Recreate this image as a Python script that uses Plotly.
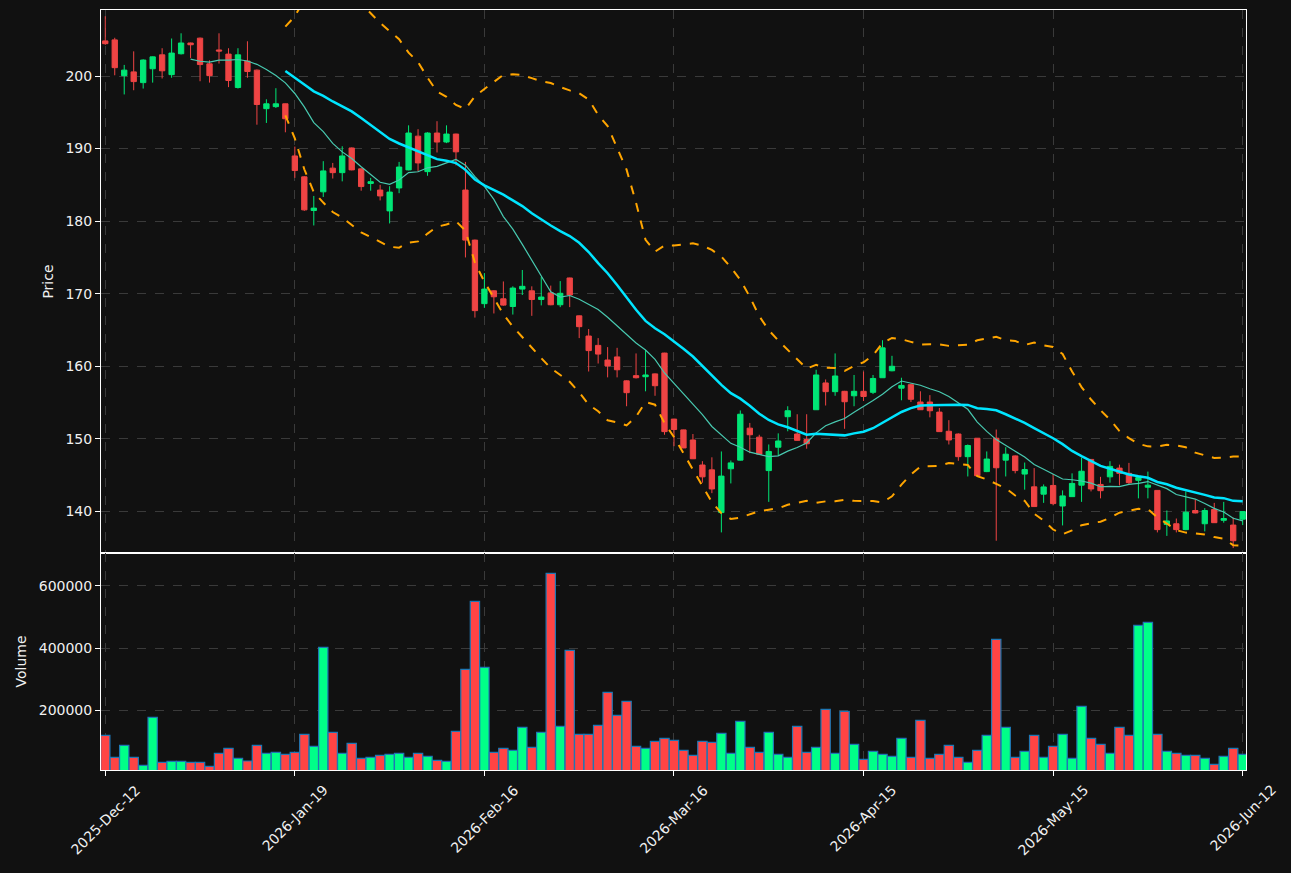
import plotly.graph_objects as go
import pandas as pd

# ---- data ----
tick_dates = ["2025-Dec-12", "2026-Jan-19", "2026-Feb-16", "2026-Mar-16",
              "2026-Apr-15", "2026-May-15", "2026-Jun-12"]

opens = [204.84, 204.98, 200.05, 200.57, 199.09, 201.0, 202.92, 200.19, 203.07, 204.55,
         205.22, 201.68, 203.59, 203.02, 198.42, 202.06, 200.81, 195.5, 195.78, 196.17,
         188.98, 186.1, 181.46, 184.04, 187.3, 186.68, 190.08, 187.2, 185.19, 184.28,
         181.41, 184.57, 187.06, 191.71, 186.82, 192.14, 190.9, 192.0, 184.28, 177.38,
         168.62, 170.39, 169.29, 168.23, 170.63, 170.39, 169.19, 170.1, 168.47, 172.16,
         166.94, 164.16, 162.87, 160.85, 161.28, 157.98, 158.70, 158.55, 158.94, 161.81,
         152.71, 151.22, 149.83, 146.38, 145.71, 139.82, 145.86, 147.05, 151.46, 150.22,
         145.61, 148.83, 153.04, 150.65, 149.88, 154.0, 157.69, 156.49, 156.54, 155.92,
         156.54, 156.4, 158.41, 159.37, 156.97, 157.45, 155.06, 155.06, 153.67, 151.03,
         150.65, 147.53, 150.07, 145.47, 150.07, 147.05, 147.63, 145.13, 143.37, 142.36,
         143.56, 140.73, 142.02, 143.6, 147.15, 143.7, 144.75, 145.95, 145.23, 144.27,
         143.32, 142.88, 138.19, 138.28, 137.47, 140.11, 138.28, 140.25, 138.76, 138.1,
         138.91]

highs = [208.24, 205.27, 201.53, 203.4, 202.3, 202.7, 203.83, 205.17, 205.89, 204.6,
         205.3, 202.16, 205.89, 203.83, 203.83, 204.79, 200.9, 196.79, 198.32, 196.2,
         190.27, 186.2, 183.47, 188.26, 188.02, 190.32, 190.15, 187.25, 185.96, 185.0,
         184.81, 188.16, 193.2, 192.67, 192.25, 193.77, 193.2, 192.05, 188.16, 177.45,
         172.83, 170.45, 171.68, 171.01, 173.26, 171.01, 172.3, 171.11, 171.73, 172.2,
         167.0, 165.12, 163.87, 162.63, 162.53, 158.05, 161.76, 162.24, 159.0, 161.85,
         152.75, 151.25, 150.65, 146.91, 147.44, 148.25, 147.0, 153.9, 152.18, 150.55,
         149.21, 150.74, 154.48, 153.38, 153.38, 159.51, 158.17, 161.76, 156.6, 158.79,
         159.27, 158.79, 163.58, 161.43, 158.41, 157.59, 156.54, 156.01, 154.24, 152.56,
         150.74, 149.21, 150.1, 148.25, 151.27, 148.83, 147.7, 146.72, 145.95, 143.7,
         145.13, 142.88, 145.23, 147.39, 147.2, 144.75, 146.91, 146.43, 146.67, 144.75,
         145.47, 142.9, 140.11, 139.0, 142.74, 141.64, 140.44, 141.16, 141.3, 139.15,
         140.0]

lows = [204.3, 200.1, 197.46, 198.04, 198.27, 199.09, 199.66, 199.76, 202.97, 202.49,
        199.28, 199.09, 201.72, 198.47, 198.27, 199.76, 193.29, 193.53, 195.59, 192.24,
        185.96, 181.41, 179.4, 183.33, 185.87, 185.48, 187.0, 184.19, 184.19, 182.85,
        179.68, 183.85, 187.0, 186.82, 186.25, 189.46, 190.75, 187.69, 174.99, 166.7,
        168.04, 167.27, 168.33, 167.12, 169.81, 166.94, 168.38, 168.4, 168.14, 168.14,
        163.87, 159.27, 160.37, 158.46, 158.46, 154.48, 158.31, 156.54, 155.92, 150.55,
        148.97, 148.7, 147.2, 143.94, 142.5, 137.09, 143.84, 147.0, 148.01, 147.8,
        141.3, 147.63, 151.03, 149.75, 148.63, 154.0, 154.58, 155.92, 151.37, 154.48,
        155.2, 156.16, 158.4, 159.3, 155.3, 155.06, 154.0, 152.95, 150.95, 149.21,
        146.96, 144.8, 144.8, 145.4, 135.94, 144.8, 145.23, 142.98, 140.6, 141.16,
        140.82, 138.05, 142.0, 141.3, 142.74, 141.78, 143.94, 143.56, 143.7, 141.78,
        141.78, 137.09, 136.61, 137.09, 137.4, 139.7, 137.23, 138.4, 138.43, 134.93,
        138.1]

closes = [204.46, 201.15, 200.81, 199.23, 202.2, 202.64, 200.72, 203.16, 204.55, 204.31,
          201.58, 200.05, 203.45, 199.38, 202.92, 200.62, 196.07, 196.17, 196.17, 194.11,
          186.97, 181.55, 181.79, 186.92, 186.68, 188.98, 187.06, 184.76, 185.43, 183.47,
          184.0, 187.45, 192.14, 188.02, 192.14, 190.9, 192.0, 189.55, 177.38, 167.66,
          170.63, 169.57, 168.42, 170.77, 171.01, 169.19, 169.53, 168.47, 170.05, 169.81,
          165.45, 162.15, 161.67, 160.04, 159.51, 156.35, 158.41, 158.79, 157.31, 150.98,
          151.27, 148.73, 147.24, 144.75, 143.08, 144.85, 146.67, 153.38, 150.55, 147.87,
          148.25, 149.69, 153.86, 149.78, 149.31, 158.79, 156.49, 158.65, 155.1, 156.54,
          155.82, 158.31, 162.53, 159.99, 157.35, 155.44, 154.0, 153.86, 150.98, 149.83,
          147.53, 149.07, 144.9, 147.2, 146.0, 147.87, 145.61, 145.75, 140.65, 143.36,
          141.06, 142.12, 143.84, 145.52, 143.08, 142.84, 146.19, 145.23, 143.94, 144.65,
          143.6, 137.47, 138.67, 137.47, 139.87, 139.77, 140.11, 138.43, 139.0, 135.94,
          139.96]

volumes = [119570, 48790, 87400, 48800, 23050, 177480, 32700, 35920, 35920, 32700,
           32700, 19840, 61660, 77740, 45570, 37000, 87400, 61660, 64880, 58440,
           64880, 122800, 84180, 402680, 129220, 61660, 93830, 45570, 48790, 55220,
           58440, 61660, 48790, 61660, 52000, 39140, 35920, 132440, 331900, 550670,
           338340, 64880, 77740, 71310, 145310, 80960, 129220, 640760, 148530, 393030,
           122800, 122800, 151740, 257910, 183910, 228950, 84180, 77740, 100270, 109920,
           103480, 71310, 55220, 100270, 97050, 126000, 61660, 164610, 80960, 64880,
           129220, 58440, 48790, 148530, 64880, 80960, 203220, 61660, 196780, 90610,
           42360, 68090, 58440, 52000, 109920, 48790, 167830, 45570, 58440, 87400,
           48790, 32700, 71310, 119570, 428420, 145310, 48790, 68090, 119570, 48790,
           84180, 122800, 45570, 212870, 109920, 90610, 61660, 145310, 119570, 473460,
           483110, 122800, 68090, 61660, 55220, 55220, 45570, 26270, 52000, 77740,
           58440]

# ---- derived indicators ----
n = len(closes)
idx = list(range(n))
close_s = pd.Series(closes)
ma10 = close_s.rolling(10).mean()
ma20 = close_s.rolling(20).mean()
sd20 = close_s.rolling(20).std()
upper = ma20 + 2 * sd20
lower = ma20 - 2 * sd20

vol_colors = ["#00ff88" if c >= o else "#ff4444" for o, c in zip(opens, closes)]
tick_idx = list(range(0, n, 20))

FONT = "DejaVu Sans"
TXT = "#f0f0f0"
GRID = "#3a3a3a"
BG = "#111111"

fig = go.Figure()

fig.add_trace(go.Candlestick(
    x=idx, open=opens, high=highs, low=lows, close=closes,
    increasing=dict(line=dict(color="#00e676", width=1), fillcolor="#00e676"),
    decreasing=dict(line=dict(color="#ef4444", width=1), fillcolor="#ef4444"),
    whiskerwidth=0, xaxis="x", yaxis="y", showlegend=False, name="Price",
))

fig.add_trace(go.Scatter(x=idx, y=upper, mode="lines", xaxis="x", yaxis="y",
                         line=dict(color="#ffa500", width=2, dash="dash"),
                         showlegend=False, name="Upper"))
fig.add_trace(go.Scatter(x=idx, y=lower, mode="lines", xaxis="x", yaxis="y",
                         line=dict(color="#ffa500", width=2, dash="dash"),
                         showlegend=False, name="Lower"))
fig.add_trace(go.Scatter(x=idx, y=ma10, mode="lines", xaxis="x", yaxis="y",
                         line=dict(color="#48c9b0", width=1.2),
                         showlegend=False, name="MA10"))
fig.add_trace(go.Scatter(x=idx, y=ma20, mode="lines", xaxis="x", yaxis="y",
                         line=dict(color="#00e5ff", width=2.5),
                         showlegend=False, name="MA20"))

fig.add_trace(go.Bar(x=idx, y=volumes, xaxis="x2", yaxis="y2",
                     marker=dict(color=vol_colors, line=dict(color="#1f77b4", width=1.2)),
                     showlegend=False, name="Volume"))

split = 217 / 760
xrange = [-0.45, 120.35]

# rotated date labels centred under their ticks
annotations = [
    dict(x=t, y=0, xref="x2", yref="paper", text=lab, showarrow=False,
         textangle=-45, xanchor="center", yanchor="top", yshift=-9,
         font=dict(family=FONT, size=14, color=TXT))
    for t, lab in zip(tick_idx, tick_dates)
]

fig.update_layout(
    width=1291, height=873,
    margin=dict(l=101, r=45, t=10, b=103),
    paper_bgcolor=BG, plot_bgcolor=BG,
    font=dict(family=FONT, size=14, color=TXT),
    boxgap=0.2,
    bargap=0.02,
    showlegend=False,
    annotations=annotations,
    xaxis=dict(
        domain=[0, 1], anchor="y", range=xrange,
        tickvals=tick_idx, showticklabels=False,
        showgrid=True, gridcolor=GRID, griddash="dash", gridwidth=1,
        showline=True, mirror=True, linecolor="white", linewidth=1,
        zeroline=False, rangeslider=dict(visible=False), ticks="",
    ),
    xaxis2=dict(
        domain=[0, 1], anchor="y2", range=xrange, matches="x",
        tickvals=tick_idx, showticklabels=False,
        showgrid=True, gridcolor=GRID, griddash="dash", gridwidth=1,
        showline=True, mirror=True, linecolor="white", linewidth=1,
        zeroline=False, ticks="outside", ticklen=5, tickcolor="white",
    ),
    yaxis=dict(
        domain=[split, 1], anchor="x", range=[134.25, 209.1], dtick=10,
        showgrid=True, gridcolor=GRID, griddash="dash", gridwidth=1,
        showline=True, mirror=True, linecolor="white", linewidth=1,
        zeroline=False, ticks="outside", ticklen=5, tickcolor="white",
        title=dict(text="Price", standoff=8,
                   font=dict(family=FONT, size=14, color=TXT)),
    ),
    yaxis2=dict(
        domain=[0, split], anchor="x2", range=[8000, 706000],
        tickvals=[200000, 400000, 600000], tickformat="d",
        showgrid=True, gridcolor=GRID, griddash="dash", gridwidth=1,
        showline=True, mirror=True, linecolor="white", linewidth=1,
        zeroline=False, ticks="outside", ticklen=5, tickcolor="white",
        title=dict(text="Volume", standoff=8,
                   font=dict(family=FONT, size=14, color=TXT)),
    ),
)

fig.write_html("out.html")
